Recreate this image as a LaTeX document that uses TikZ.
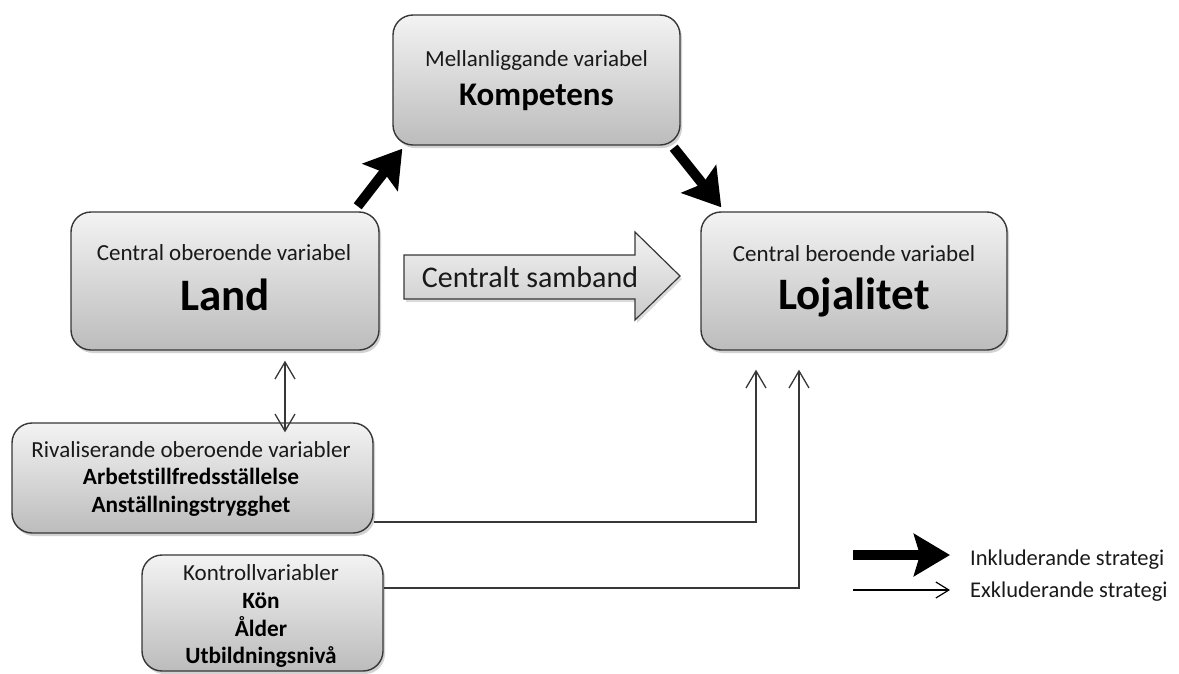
\documentclass[tikz,border=0pt]{standalone}
\usepackage{fontspec}
\setmainfont{Carlito}[Ligatures={NoCommon}]
\usetikzlibrary{arrows.meta,shadows,calc}
\definecolor{boxtop}{RGB}{243,243,243}
\definecolor{boxbot}{RGB}{188,188,188}
\definecolor{edge}{RGB}{55,55,55}
\definecolor{txt}{RGB}{25,25,25}
\begin{document}
\begin{tikzpicture}[x=1pt,y=-1pt,
  box/.style={draw=edge, line width=1.4pt, rounded corners=20pt, top color=boxtop, bottom color=boxbot,
    drop shadow={shadow xshift=2pt, shadow yshift=-3pt, opacity=0.25, fill=black!70}, inner sep=0pt},
  small/.style={font=\fontsize{23}{27}\selectfont, text=txt, inner sep=0pt, anchor=base},
  boldtxt/.style={font=\fontsize{23.3}{27}\selectfont\bfseries, text=black, inner sep=0pt, anchor=base},
  hugetxt/.style={font=\fontsize{45}{50}\selectfont\bfseries, text=black, inner sep=0pt, anchor=base},
  thickarrow/.style={line width=10pt, black, -{Stealth[length=36pt,width=44pt,inset=6pt]}},
  thinarrow/.style={draw=edge, line width=1.3pt, -{Straight Barb[length=17pt,width=20pt]}},
  thinboth/.style={draw=edge, line width=1.3pt, {Straight Barb[length=17pt,width=20pt]}-{Straight Barb[length=17pt,width=20pt]}},
  blockarrow/.style={draw=edge, line width=1.2pt, top color=boxtop, bottom color=boxbot!80!white,
    drop shadow={shadow xshift=2pt, shadow yshift=-3pt, opacity=0.2, fill=black!70}}
]
\useasboundingbox (0,0) rectangle (1179,673);

% boxes
\node[box, minimum width=287pt, minimum height=130pt] (komp) at (536.5,80) {};
\node[box, minimum width=308pt, minimum height=138pt] (land) at (225,281) {};
\node[box, minimum width=306pt, minimum height=138pt] (loj) at (854,281) {};
\node[box, minimum width=361pt, minimum height=110pt] (rival) at (192.5,478) {};
\node[box, minimum width=241pt, minimum height=116pt] (kontr) at (262.5,613) {};

% texts in boxes
\node[small] (kompS) at (536.5,66) {Mellanliggande variabel};
\node[boldtxt, font=\fontsize{33}{37}\selectfont\bfseries] (kompB) at (536.5,105) {Kompetens};
\node[small] (landS) at (224,260) {Central oberoende variabel};
\node[hugetxt] (landB) at (225,310) {Land};
\node[small] (lojS) at (854,261) {Central beroende variabel};
\node[hugetxt] (lojB) at (854,309) {Lojalitet};
\node[small] (rivS) at (191,457) {Rivaliserande oberoende variabler};
\node[boldtxt] (rivA) at (191,484) {Arbetstillfredsställelse};
\node[boldtxt] (rivB) at (191,512) {Anställningstrygghet};
\node[small] (konS) at (261,580) {Kontrollvariabler};
\node[boldtxt] (konA) at (261,608) {Kön};
\node[boldtxt] (konB) at (261,636) {Ålder};
\node[boldtxt] (konC) at (261,663) {Utbildningsnivå};

% central block arrow
\draw[blockarrow] (404,255) -- (635,255) -- (635,232) -- (680,276) -- (635,320) -- (635,299) -- (404,299) -- cycle;
\node[font=\fontsize{30}{34}\selectfont, text=txt, inner sep=0pt, anchor=base] (cs) at (530,287) {Centralt samband};

% thick arrows
\draw[thickarrow] ([shift={(-22,-5)}]land.north east) -- ([shift={(10,3)}]komp.south west);
\draw[thickarrow] ([shift={(-7,2)}]komp.south east) -- ([shift={(21,-4)}]loj.north west);

% thin arrows
\draw[thinboth] ([shift={(60,10)}]land.south) -- ([shift={(60,10)}]land.south |- rival.north);
\draw[thinarrow] ([shift={(0,44)}]rival.east) -| ([shift={(-98,19)}]loj.south);
\draw[thinarrow] ([shift={(0,-25)}]kontr.east) -| ([shift={(-55,19)}]loj.south);

% legend
\coordinate (la) at (853,555);
\coordinate (lb) at (950,555);
\coordinate (lc) at (853,590);
\coordinate (ld) at (950,590);
\draw[line width=10pt, black, -{Stealth[length=36pt,width=42pt,inset=6pt]}] (la) -- (lb);
\draw[draw=black, line width=1.2pt, -{Straight Barb[length=13pt,width=16pt]}] (lc) -- (ld);
\node[small, font=\fontsize{22.5}{26}\selectfont, anchor=base west] (lt1) at (970,565) {Inkluderande strategi};
\node[small, font=\fontsize{22.5}{26}\selectfont, anchor=base west] (lt2) at (970,597) {Exkluderande strategi};
\end{tikzpicture}
\end{document}
